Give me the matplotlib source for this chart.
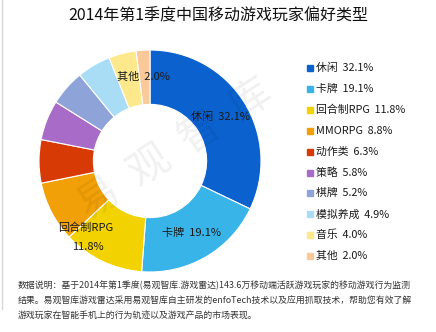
import matplotlib
matplotlib.use("Agg")
import matplotlib.pyplot as plt
from matplotlib.lines import Line2D

plt.rcParams['font.family'] = ['Noto Sans CJK SC', 'DejaVu Sans']

title = "2014年第1季度中国移动游戏玩家偏好类型"
categories = ["休闲", "卡牌", "回合制RPG", "MMORPG", "动作类", "策略", "棋牌", "模拟养成", "音乐", "其他"]
shares = [32.1, 19.1, 11.8, 8.8, 6.3, 5.8, 5.2, 4.9, 4.0, 2.0]
colors = ["#0b62cf", "#38b4e8", "#f2d200", "#f2a007", "#d83a06",
          "#a86cc8", "#8ea4d8", "#a9dcf5", "#fde98c", "#f9c99a"]
note = ("数据说明：基于2014年第1季度(易观智库.游戏雷达)143.6万移动端活跃游戏玩家的移动游戏行为监测\n"
        "结果。易观智库游戏雷达采用易观智库自主研发的enfoTech技术以及应用抓取技术，帮助您有效了解\n"
        "游戏玩家在智能手机上的行为轨迹以及游戏产品的市场表现。")

W, H = 436, 332
fig = plt.figure(figsize=(W / 100, H / 100), dpi=100)
fig.patch.set_facecolor("white")

# donut
ax = fig.add_axes([39 / W, (H - 272) / H, 222 / W, 222 / H])
wedges, _ = ax.pie(shares, colors=colors, startangle=90, counterclock=False,
                   radius=1.0, wedgeprops=dict(width=0.49, edgecolor="white", linewidth=0.8))
ax.set_xlim(-1, 1)
ax.set_ylim(-1, 1)
ax.set_aspect("equal")
ax.axis("off")

# labels on some slices (pixel positions on the figure)
lab_kw = dict(fontsize=8, color="#1a1a1a", ha="center", va="center")
fig.text(220 / W, 1 - 117 / H, f"{categories[0]}  {shares[0]}%", **lab_kw)
fig.text(191 / W, 1 - 233 / H, f"{categories[1]}  {shares[1]}%", **lab_kw)
fig.text(86 / W, 1 - 228 / H, categories[2], **lab_kw)
fig.text(88 / W, 1 - 247 / H, f"{shares[2]}%", **lab_kw)
fig.text(143 / W, 1 - 77 / H, f"{categories[9]}  {shares[9]}%", **lab_kw)

# watermark
fig.text(175 / W, 1 - 150 / H, "易  观  智  库", fontsize=30, color="#000000", alpha=0.06,
         rotation=33, ha="center", va="center")

# title
fig.text(0.5, 1 - 16 / H, title, fontsize=11.5, color="#111111", ha="center", va="center")

# legend
for i, (c, v, col) in enumerate(zip(categories, shares, colors)):
    y = 1 - (68 + i * 20.9) / H
    fig.add_artist(Line2D([310 / W], [y], marker="s", markersize=4.2, color=col,
                          linestyle="none", transform=fig.transFigure))
    fig.text(316 / W, y, f"{c}  {v}%", fontsize=7.8, color="#1a1a1a", ha="left", va="center")

# footnote
fig.text(18 / W, 1 - 281 / H, note, fontsize=6.4, color="#333333", ha="left", va="top",
         linespacing=1.8)

# left frame line
fig.add_artist(Line2D([1.5 / W, 1.5 / W], [0.07, 1], color="#d8d8d8", linewidth=1,
                      transform=fig.transFigure))

fig.savefig("out.png", dpi=100)
